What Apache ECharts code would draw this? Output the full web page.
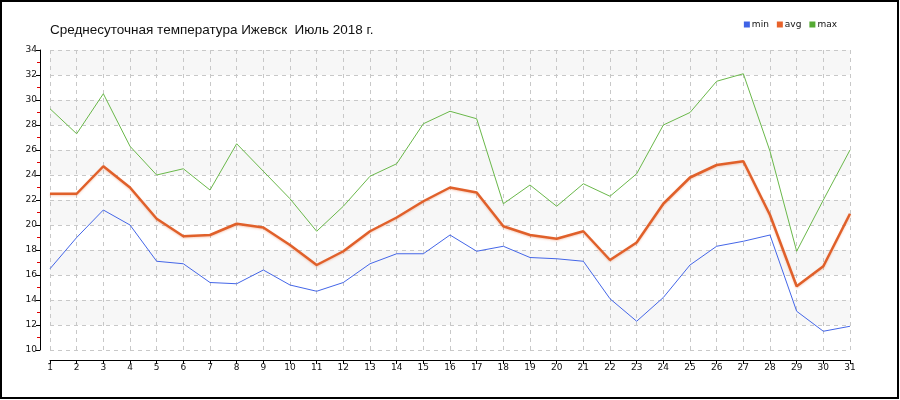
<!DOCTYPE html>
<html>
<head>
<meta charset="utf-8">
<script src="https://cdn.jsdelivr.net/npm/echarts@6/dist/echarts.min.js"></script>
<style>html,body{margin:0;padding:0;background:#fff}#c{width:900px;height:400px}</style>
</head>
<body>
<div id="c"></div>
<script>
const days = ['1','2','3','4','5','6','7','8','9','10','11','12','13','14','15','16','17','18','19','20','21','22','23','24','25','26','27','28','29','30','31'];
const minVals = [16.5,19.0,21.2,20.0,17.1,16.9,15.4,15.3,16.4,15.2,14.7,15.4,16.9,17.7,17.7,19.2,17.9,18.3,17.4,17.3,17.1,14.1,12.3,14.2,16.8,18.3,18.7,19.2,13.1,11.5,11.9];
const avgVals = [22.5,22.5,24.7,23.0,20.5,19.1,19.2,20.1,19.8,18.4,16.8,17.9,19.5,20.6,21.9,23.0,22.6,19.9,19.2,18.9,19.5,17.2,18.6,21.7,23.8,24.8,25.1,20.8,15.1,16.7,20.9];
const maxVals = [29.3,27.3,30.5,26.3,24.0,24.5,22.8,26.5,24.3,22.1,19.5,21.5,23.9,24.9,28.1,29.1,28.5,21.7,23.2,21.5,23.3,22.3,24.1,28.0,29.0,31.5,32.1,25.9,17.9,22.0,26.0];
const seriesNames = ['min','avg','max'];
const titleText = 'Среднесуточная температура Ижевск  Июль 2018 г.';

const font = 'DejaVu Sans';
const chart = echarts.init(document.getElementById('c'), null, {renderer:'canvas'});
chart.setOption({
  animation: false,
  backgroundColor: '#fff',
  title: {text: titleText, left: 45, top: 18, textStyle: {fontFamily: 'Liberation Sans', fontSize: 13.5, fontWeight: 'normal', color: '#111'}},
  legend: {
    data: seriesNames, right: 58, top: 15, itemWidth: 6, itemHeight: 6, itemGap: 8,
    icon: 'rect', textStyle: {fontFamily: font, fontSize: 9, color: '#111', padding: [0,0,0,-3]}
  },
  grid: {left: 50, right: 50, top: 50, bottom: 50},
  xAxis: {
    type: 'category', data: days, boundaryGap: false, offset: 10,
    axisLine: {lineStyle: {color: '#000', width: 1}},
    axisTick: {show: true, length: 4, lineStyle: {color: '#000'}},
    axisLabel: {fontFamily: font, fontSize: 9, color: '#111', margin: 3, interval: 0},
    splitLine: {show: true, lineStyle: {color: '#c8c8c8', type: [4,4]}}
  },
  yAxis: {
    type: 'value', min: 10, max: 34, interval: 2, offset: 10,
    axisLine: {show: true, lineStyle: {color: '#000', width: 1}},
    axisTick: {show: true, length: 4, lineStyle: {color: '#000'}},
    minorTick: {show: true, splitNumber: 2, length: 3, lineStyle: {color: '#e00000'}},
    axisLabel: {fontFamily: font, fontSize: 9, color: '#111', margin: 3},
    splitLine: {show: true, lineStyle: {color: '#c8c8c8', type: [4,4]}},
    splitArea: {show: true, areaStyle: {color: ['#ffffff', '#f7f7f7']}}
  },
  series: [
    {name: 'min', type: 'line', data: minVals, symbol: 'none', color: '#3f63e6', lineStyle: {width: 1, color: '#4466e8'}, z: 3},
    {name: 'avg', type: 'line', data: avgVals, symbol: 'none', color: '#e8622a',
      lineStyle: {width: 2.5, color: '#e0602a', shadowColor: 'rgba(232,98,42,0.3)', shadowBlur: 2, shadowOffsetY: 1}, z: 4},
    {name: 'max', type: 'line', data: maxVals, symbol: 'none', color: '#55aa33', lineStyle: {width: 1, color: '#6ab84a'}, z: 3}
  ],
  graphic: [{type: 'rect', shape: {x: 1, y: 1, width: 897, height: 397}, style: {fill: 'none', stroke: '#000', lineWidth: 2}, silent: true}]
});
</script>
</body>
</html>
